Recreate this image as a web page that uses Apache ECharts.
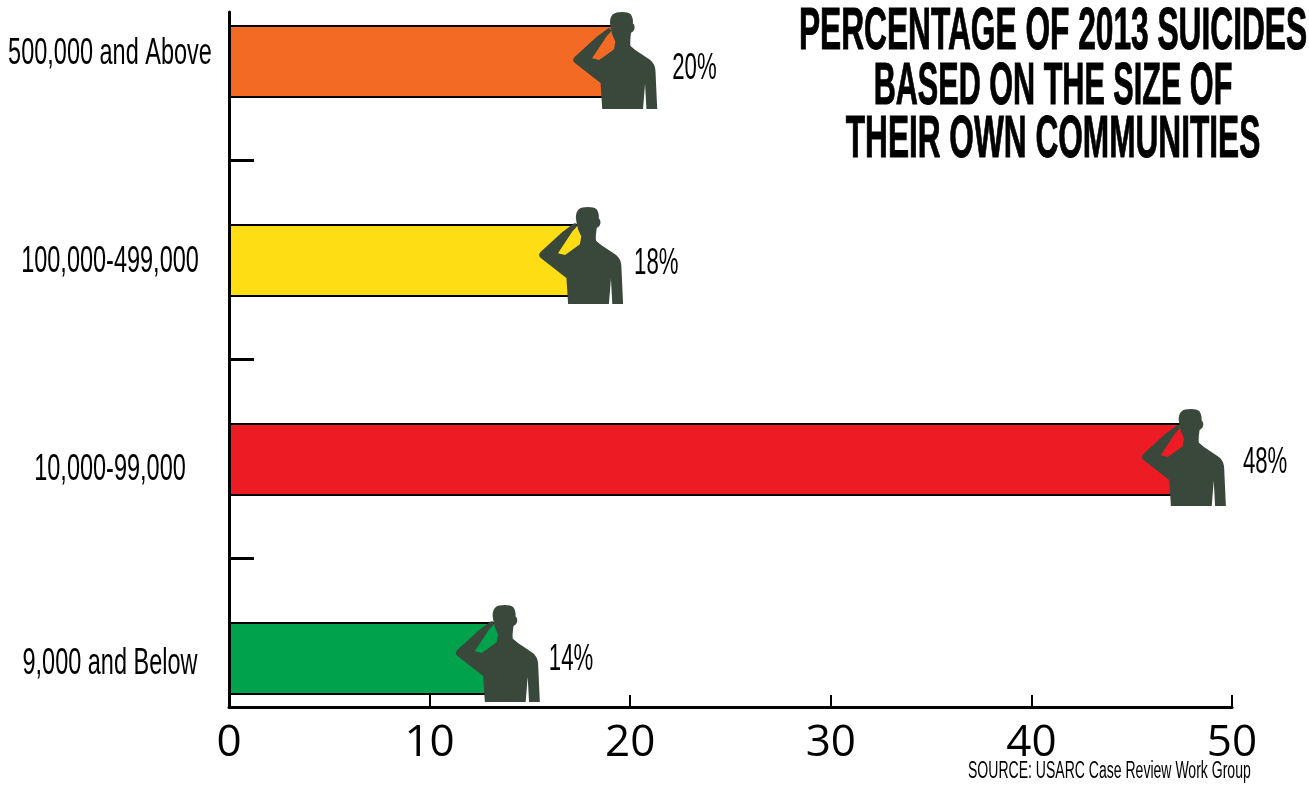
<!DOCTYPE html>
<html><head><meta charset="utf-8">
<style>html,body{margin:0;padding:0;background:#fff}#c{width:1309px;height:785px}</style>
<script src="https://cdn.jsdelivr.net/npm/echarts@6/dist/echarts.min.js"></script>
</head><body><div id="c"></div>
<script>
const categories = ['500,000 and Above','100,000-499,000','10,000-99,000','9,000 and Below'];
const values = [20,18,48,14];
const barColors = ['#F36A25','#FFDD15','#ED1C24','#00A24B'];
const xTicks = [0,10,20,30,40,50];
const titleLines = ['PERCENTAGE OF 2013 SUICIDES','BASED ON THE SIZE OF','THEIR OWN COMMUNITIES'];
const sourceText = 'SOURCE: USARC Case Review Work Group';
// small hand-placement nudges from the original artwork
const soldierOffset = [[27,-1],[33,-5],[34,-2],[30,-5]];
const valueLabelOffset = [[42,7],[44,3],[51,3],[39,1]];
const catLabelNudge = [-8,1,10,5];
const titleY = [32,87,140];
const titleScale = [0.528,0.51,0.527];
const soldier = 'path://M218 45C228 36 262 35 272 45C277 52 279 62 278 72C284 76 285 88 279 95L272 100C270 115 268 130 270 138L285 150L325 177C340 187 345 200 345 215L350 325L318 325L314 250L308 325L187 325L182 248L105 188C99 182 100 176 106 170L170 112L205 86C212 84 214 90 212 97L200 110L157 175L178 180L222 148L226 125L217 105L213 90L210 70C210 58 213 50 218 45Z';
const sans = '"Liberation Sans",sans-serif';
const chart = echarts.init(document.getElementById('c'),null,{renderer:'canvas'});
chart.setOption({
  animation:false,
  backgroundColor:'#fff',
  grid:[
    {left:229,width:1003,top:-38,height:796,outerBoundsMode:'none',containLabel:false},
    {left:229,width:1003,top:12,height:695,outerBoundsMode:'none',containLabel:false}
  ],
  xAxis:[
    {gridIndex:0,type:'value',min:0,max:50,show:false},
    {gridIndex:1,type:'value',min:0,max:50,interval:10,position:'bottom',
     axisLine:{show:true,onZero:false,lineStyle:{color:'#000',width:3}},
     axisTick:{show:true,inside:true,length:12,lineStyle:{color:'#000',width:2}},
     axisLabel:{show:true,margin:14,fontFamily:'"Open Sans"',fontSize:44,color:'#000',
       customValues:xTicks,hideOverlap:false},
     splitLine:{show:false}}
  ],
  yAxis:[
    {gridIndex:0,type:'category',inverse:true,data:categories,
     axisLine:{show:false},axisTick:{show:false},splitLine:{show:false},axisLabel:{show:false}},
    {gridIndex:1,type:'value',min:0,max:3.492,position:'left',
     axisLine:{show:true,onZero:false,lineStyle:{color:'#000',width:3}},
     axisTick:{show:true,inside:true,length:25,customValues:[0.746,1.746,2.746],lineStyle:{color:'#000',width:3}},
     axisLabel:{show:false},splitLine:{show:false}}
  ],
  series:[
    {type:'bar',xAxisIndex:0,yAxisIndex:0,barWidth:73,z:2,silent:true,
     data:values.map((v,i)=>({value:v,
       itemStyle:{color:barColors[i],borderColor:'#000',borderWidth:2}}))},
    {type:'pictorialBar',xAxisIndex:0,yAxisIndex:0,z:3,barGap:'-100%',barWidth:73,silent:true,
     symbol:soldier,symbolSize:[84,97],symbolPosition:'end',symbolRepeat:false,
     itemStyle:{color:'#3A473B'},
     data:values.map((v,i)=>({value:v,symbolOffset:soldierOffset[i]}))},
    {type:'custom',xAxisIndex:0,yAxisIndex:0,z:4,silent:true,
     data:values.map((v,i)=>[v,i]),
     renderItem:(p,api)=>{
       const i=api.value(1), pt=api.coord([api.value(0),i]);
       return {type:'group',children:[
         {type:'text',x:pt[0]+valueLabelOffset[i][0],y:pt[1]+valueLabelOffset[i][1],scaleX:0.6,
          style:{text:api.value(0)+'%',fontFamily:sans,fontSize:37,fill:'#000',align:'left',verticalAlign:'middle'}},
         {type:'text',x:110,y:pt[1]+catLabelNudge[i],scaleX:0.635,
          style:{text:categories[i],fontFamily:sans,fontSize:37,fill:'#000',align:'center',verticalAlign:'middle'}}
       ]};
     }}
  ],
  graphic:[
    ...titleLines.map((t,i)=>({type:'text',x:1053,y:titleY[i],scaleX:titleScale[i],z:10,silent:true,
      style:{text:t,fontFamily:sans,fontWeight:'bold',fontSize:60,fill:'#000',stroke:'#000',lineWidth:1,align:'center',verticalAlign:'middle'}})),
    {type:'text',x:968,y:772,scaleX:0.61,z:10,silent:true,
      style:{text:sourceText,fontFamily:sans,fontSize:23,fill:'#000',align:'left',verticalAlign:'middle'}}
  ]
});
</script></body></html>
